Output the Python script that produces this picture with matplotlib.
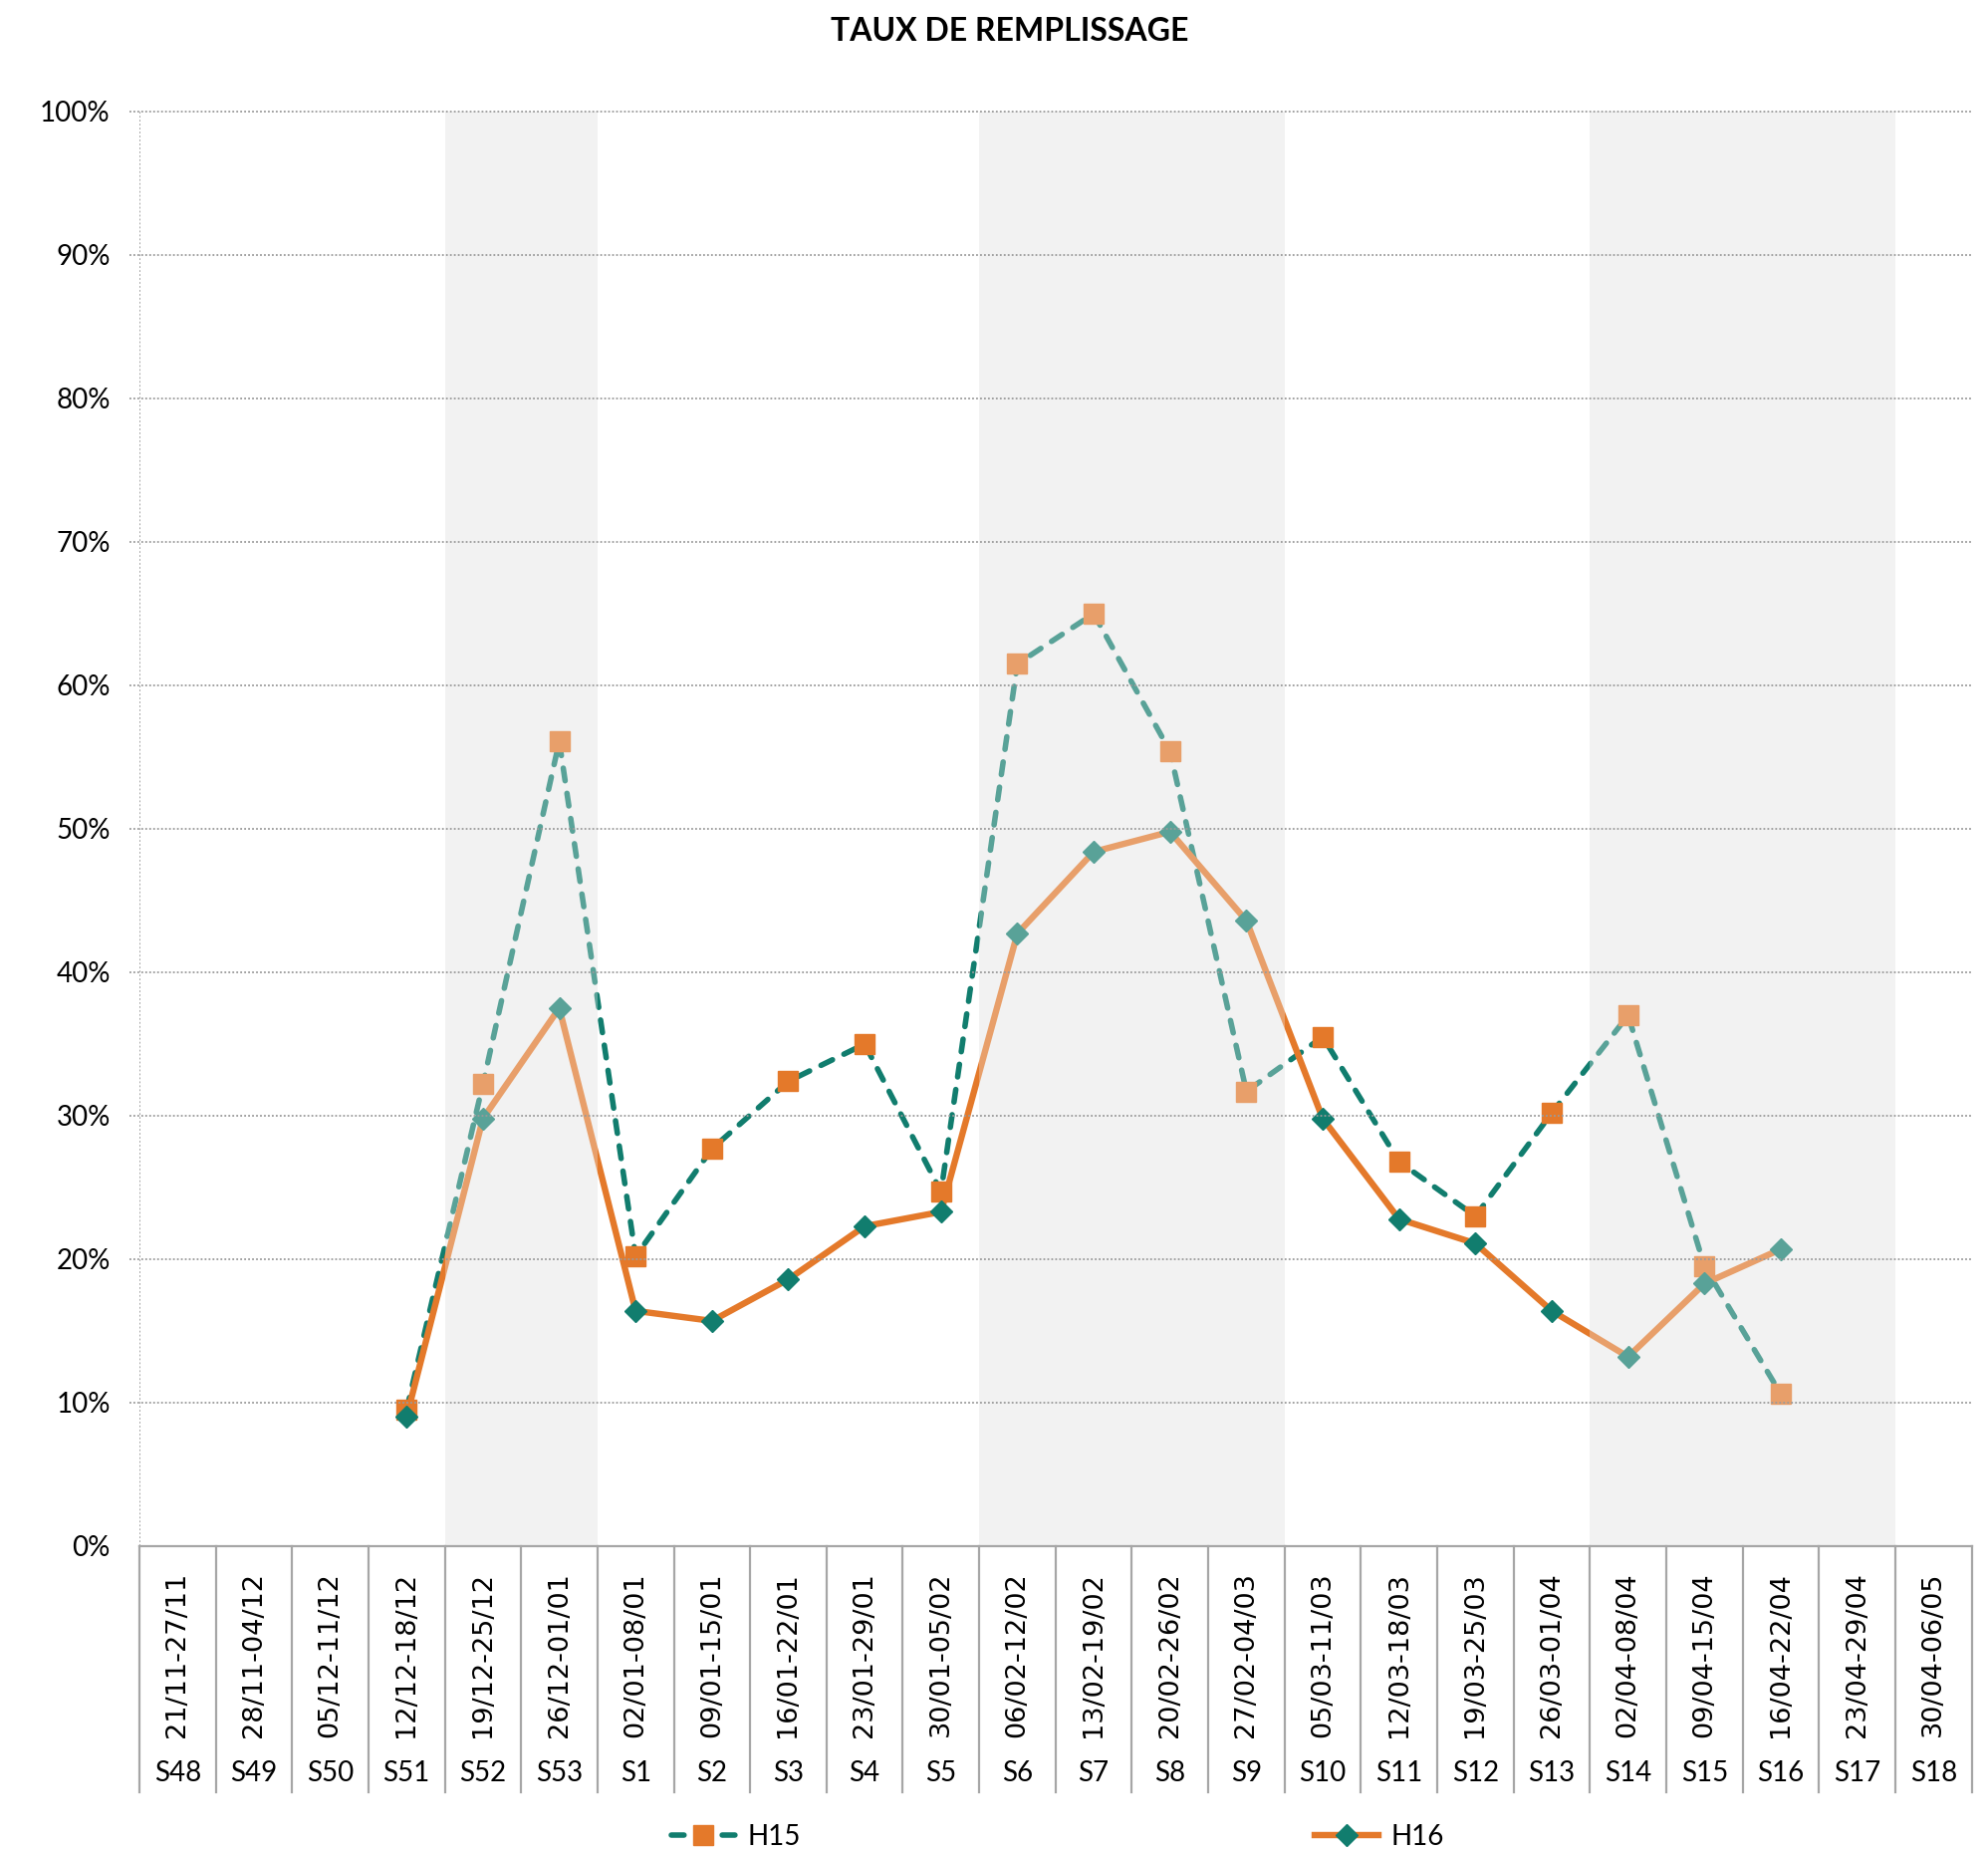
#!/usr/bin/env python3
"""Taux de remplissage hebdomadaire, H15 vs H16."""

import numpy as np
import matplotlib
matplotlib.use("Agg")
import matplotlib.pyplot as plt

# Data
weeks = ["S48", "S49", "S50", "S51", "S52", "S53", "S1", "S2", "S3", "S4", "S5",
         "S6", "S7", "S8", "S9", "S10", "S11", "S12", "S13", "S14", "S15", "S16",
         "S17", "S18"]
dates = ["21/11-27/11", "28/11-04/12", "05/12-11/12", "12/12-18/12", "19/12-25/12",
         "26/12-01/01", "02/01-08/01", "09/01-15/01", "16/01-22/01", "23/01-29/01",
         "30/01-05/02", "06/02-12/02", "13/02-19/02", "20/02-26/02", "27/02-04/03",
         "05/03-11/03", "12/03-18/03", "19/03-25/03", "26/03-01/04", "02/04-08/04",
         "09/04-15/04", "16/04-22/04", "23/04-29/04", "30/04-06/05"]
nan = np.nan
h15 = [nan, nan, nan, 9.5, 32.2, 56.1, 20.2, 27.7, 32.4, 35.0, 24.7,
       61.5, 65.0, 55.4, 31.7, 35.5, 26.8, 23.0, 30.2, 37.0, 19.5, 10.6,
       nan, nan]
h16 = [nan, nan, nan, 9.0, 29.8, 37.5, 16.4, 15.7, 18.6, 22.3, 23.3,
       42.7, 48.4, 49.8, 43.6, 29.8, 22.8, 21.1, 16.4, 13.2, 18.3, 20.7,
       nan, nan]
# holiday periods (first week index, last week index)
holidays = [(4, 5), (11, 14), (19, 22)]

TEAL = "#117D6E"
ORANGE = "#E4792A"
BAND = "#F2F2F2"
GRID = "#9A9A9A"
AXIS = "#A6A6A6"

plt.rcParams["font.family"] = ["Lato", "DejaVu Sans"]

fig = plt.figure(figsize=(19.96, 18.60), dpi=100)
ax = fig.add_axes([0.0701, 0.1656, 0.9217, 0.7742])

x = np.arange(len(weeks))
ax.set_xlim(-0.5, len(weeks) - 0.5)
ax.set_ylim(0, 1)

# shaded bands: opaque below, translucent overlay above the series
for a, b in holidays:
    ax.axvspan(a - 0.5, b + 0.5, color=BAND, zorder=0, lw=0)
    ax.axvspan(a - 0.5, b + 0.5, color=BAND, alpha=0.32, zorder=5, lw=0)

# gridlines (with short stub left of the axis)
yt = np.arange(0, 1.01, 0.1)
ax.hlines(yt[1:], -0.63, len(weeks) - 0.5, colors=GRID, linestyles=(0, (1, 1.2)),
          lw=1.3, zorder=6, clip_on=False)
ax.vlines(-0.5, 0, 1, colors=GRID, linestyles=(0, (1, 1.2)), lw=1.3, zorder=6)

y15 = np.array(h15) / 100
y16 = np.array(h16) / 100
ax.plot(x, y15, color=TEAL, lw=4.0, linestyle=(0, (2.3, 2.3)),
        dash_capstyle="round", marker="s", ms=14, mfc=ORANGE, mec=ORANGE,
        zorder=3, label="H15")
ax.plot(x, y16, color=ORANGE, lw=4.6, marker="D", ms=11, mfc=TEAL, mec=TEAL,
        zorder=4, label="H16")

# axes styling
for s in ["top", "right", "left"]:
    ax.spines[s].set_visible(False)
ax.spines["bottom"].set_color(AXIS)
ax.spines["bottom"].set_linewidth(1.6)
ax.spines["bottom"].set_zorder(7)

ax.set_yticks(yt)
ax.set_yticklabels([f"{int(round(v * 100))}%" for v in yt], fontsize=20)
ax.tick_params(axis="y", length=0, pad=21)
ax.set_xticks([])

# two-level category axis
trans = ax.get_xaxis_transform()
for b in np.arange(-0.5, len(weeks), 1.0):
    ax.plot([b, b], [0, -0.1715], transform=trans, color=AXIS, lw=1.6,
            clip_on=False, zorder=7)
for i, (d, w) in enumerate(zip(dates, weeks)):
    ax.text(i, -0.018, d, transform=trans, rotation=90, ha="center", va="top",
            fontsize=19.5, family="DejaVu Sans")
    ax.text(i, -0.158, w, transform=trans, ha="center", va="center",
            fontsize=20)

fig.text(0.508, 0.983, "TAUX DE REMPLISSAGE", ha="center", va="center",
         fontsize=23, fontweight="bold")

fig.legend(loc="center", bbox_to_anchor=(0.532, 0.0085), ncol=2, frameon=False,
           fontsize=20, handlelength=2.3, columnspacing=18.6, handletextpad=0.45)

fig.savefig("out.png", dpi=100)
